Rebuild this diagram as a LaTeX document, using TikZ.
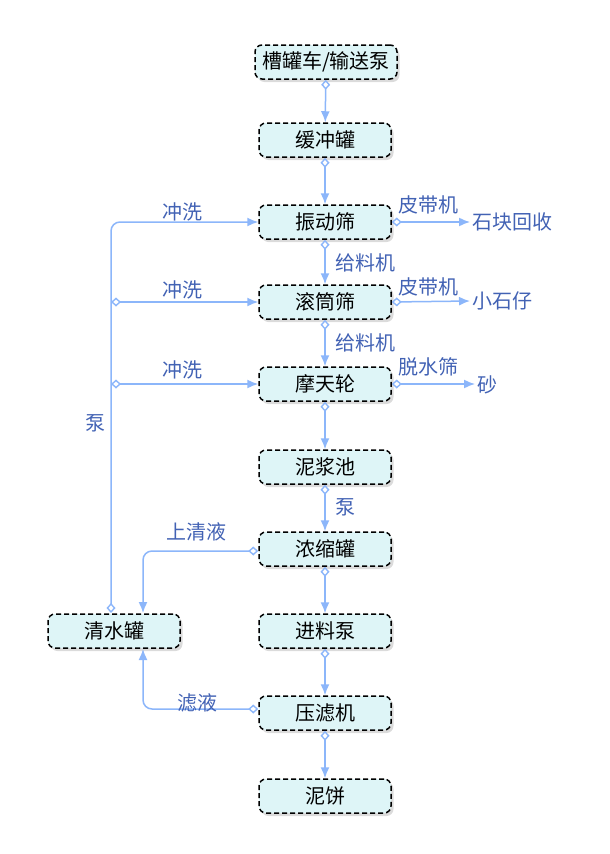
\documentclass[tikz,border=0pt]{standalone}
\usepackage{fontspec}
\setmainfont{Noto Sans CJK SC}
\usetikzlibrary{arrows.meta,shadows}
\definecolor{boxfill}{RGB}{222,245,247}
\definecolor{edgecol}{RGB}{140,182,250}
\definecolor{lblcol}{RGB}{66,98,180}
\tikzset{
  box/.style={draw=black, dash pattern=on 5pt off 3pt, line width=1.5pt, rounded corners=7pt,
    fill=boxfill, minimum width=132pt, minimum height=34pt, inner sep=2pt,
    font=\fontsize{20}{24}\selectfont,
    drop shadow={shadow xshift=2.5pt, shadow yshift=-3pt, opacity=0.35, fill=gray!80}},
  lbl/.style={text=lblcol, font=\fontsize{20}{24}\selectfont, inner sep=2pt},
  flow/.style={draw=edgecol, line width=1.5pt, rounded corners=9pt,
    {Diamond[open,length=10pt,width=9pt,line width=1.4pt]}-{Latex[length=11pt,width=9pt]}}
}
\begin{document}
\begin{tikzpicture}[x=1pt,y=-1pt]
\useasboundingbox (0,0) rectangle (610,854);
% main column
\node[box, minimum width=142pt] (a) at (326,62) {槽罐车/输送泵};
\node[box] (b) at (325,140) {缓冲罐};
\node[box] (c) at (325,222) {振动筛};
\node[box] (d) at (325,302) {滚筒筛};
\node[box] (e) at (325,384) {摩天轮};
\node[box] (f) at (325,467) {泥浆池};
\node[box] (g) at (325,549) {浓缩罐};
\node[box] (h) at (325,631) {进料泵};
\node[box] (i) at (325,713) {压滤机};
\node[box] (j) at (325,796) {泥饼};
\node[box] (q) at (114,631) {清水罐};
% outputs
\node[lbl, anchor=west] (o1) at (470,222) {石块回收};
\node[lbl, anchor=west] (o2) at (470,301) {小石仔};
\node[lbl, anchor=west] (o3) at (475,385) {砂};
% vertical chain
\draw[flow] (a) -- (b);
\draw[flow] (b) -- (c);
\draw[flow] (c) -- (d);
\draw[flow] (d) -- (e);
\draw[flow] (e) -- (f);
\draw[flow] (f) -- (g);
\draw[flow] (g) -- (h);
\draw[flow] (h) -- (i);
\draw[flow] (i) -- (j);
% right branches
\draw[flow] (c.east) -- (o1.west);
\draw[flow] (d.east) -- (o2.west);
\draw[flow] (e.east) -- (o3.west |- e.east);
% left loop
\coordinate (qt) at (111,613);
\coordinate (k1) at (111,302);
\coordinate (k2) at (111,384);
\draw[flow] (qt) |- (c.west);
\draw[flow] (k1) -- (d.west);
\draw[flow] (k2) -- (e.west);
\draw[flow] ([yshift=-2pt]g.west) -| (143,613);
\draw[flow] ([yshift=4pt]i.west) -| (143,649);
% labels
\node[lbl] (l1) at (182,212) {冲洗};
\node[lbl] (l2) at (182,290) {冲洗};
\node[lbl] (l3) at (182,370) {冲洗};
\node[lbl] (l4) at (95,423) {泵};
\node[lbl] (l5) at (428,205) {皮带机};
\node[lbl] (l6) at (428,287) {皮带机};
\node[lbl] (l7) at (428,367) {脱水筛};
\node[lbl] (l8) at (365,263) {给料机};
\node[lbl] (l9) at (365,343) {给料机};
\node[lbl] (l10) at (345,507) {泵};
\node[lbl] (l11) at (196,532) {上清液};
\node[lbl] (l12) at (197,703) {滤液};
\end{tikzpicture}
\end{document}
